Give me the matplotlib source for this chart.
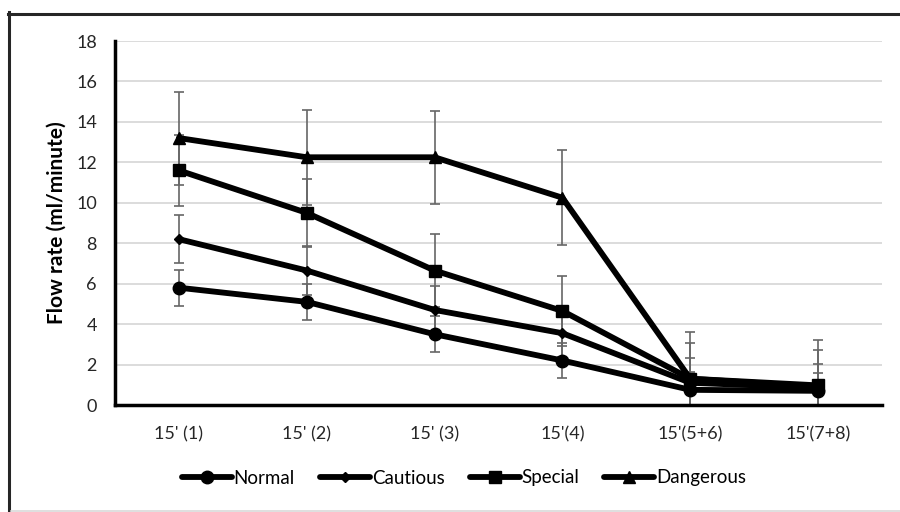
import matplotlib
matplotlib.use("Agg")
import matplotlib.pyplot as plt
from matplotlib.lines import Line2D

plt.rcParams['font.family'] = ['Lato', 'DejaVu Sans']

categories = ["15' (1)", "15' (2)", "15' (3)", "15'(4)", "15'(5+6)", "15'(7+8)"]
series_names = ["Normal", "Cautious", "Special", "Dangerous"]
normal = [5.8, 5.1, 3.5, 2.2, 0.75, 0.7]
normal_err = [0.9, 0.9, 0.9, 0.87, 0.9, 0.9]
cautious = [8.2, 6.65, 4.7, 3.55, 1.1, 0.85]
cautious_err = [1.2, 1.2, 1.2, 1.2, 1.2, 1.2]
special = [11.6, 9.5, 6.65, 4.65, 1.3, 0.97]
special_err = [1.75, 1.7, 1.8, 1.75, 1.75, 1.75]
dangerous = [13.2, 12.25, 12.25, 10.25, 1.3, 0.9]
dangerous_err = [2.3, 2.35, 2.3, 2.35, 2.3, 2.3]
y_ticks = [0, 2, 4, 6, 8, 10, 12, 14, 16, 18]

W, H = 900, 512
fig = plt.figure(figsize=(W / 100, H / 100), dpi=100)
ax = fig.add_axes([115 / W, 1 - 405 / H, (882 - 115) / W, (405 - 41) / H])

x = list(range(len(categories)))
data = [(normal, normal_err, 'o', 9), (cautious, cautious_err, 'D', 5.5),
        (special, special_err, 's', 8.5), (dangerous, dangerous_err, '^', 9)]

for vals, errs, m, ms in data:
    ax.errorbar(x, vals, yerr=errs, fmt='none', ecolor='#666666', elinewidth=1.2,
                capsize=3.3, capthick=1.2, zorder=2)
handles = []
for (vals, errs, m, ms), name in zip(data, series_names):
    h, = ax.plot(x, vals, color='black', lw=4.2, marker=m, markersize=ms,
                 markerfacecolor='black', markeredgecolor='black', zorder=3,
                 label=name, solid_capstyle='round', solid_joinstyle='round')
    handles.append(h)

ax.set_xlim(-0.5, len(categories) - 0.5)
ax.set_ylim(0, 18)
ax.set_yticks(y_ticks)
ax.set_xticks(x)
ax.set_xticklabels(categories)
ax.tick_params(axis='both', length=0, labelsize=13, colors='#262626')
ax.tick_params(axis='y', pad=13)
ax.tick_params(axis='x', pad=15)
ax.grid(axis='y', color='#d9d9d9', lw=1.3)
ax.set_axisbelow(True)
for s in ['top', 'right']:
    ax.spines[s].set_visible(False)
for s in ['left', 'bottom']:
    ax.spines[s].set_linewidth(2.5)
    ax.spines[s].set_color('black')

ax.set_ylabel("Flow rate (ml/minute)", fontsize=15, fontweight='bold', color='black')
ax.yaxis.set_label_coords(-0.063, 0.5)

fig.legend(handles=handles, loc='center', bbox_to_anchor=(464 / W, 1 - 478 / H),
           ncol=4, frameon=False, fontsize=13.5, handlelength=2.67, handletextpad=0.1,
           columnspacing=1.33)

# outer chart frame
fig.add_artist(Line2D([8.5 / W, 8.5 / W], [0, 1 - 12 / H], color='#262626', lw=2.2,
                      transform=fig.transFigure))
fig.add_artist(Line2D([7.5 / W, 1], [1 - 13.5 / H, 1 - 13.5 / H], color='#262626', lw=2.2,
                      transform=fig.transFigure))
fig.add_artist(Line2D([11 / W, 1], [1 - 510.5 / H, 1 - 510.5 / H], color='#d9d9d9', lw=1.2,
                      transform=fig.transFigure))

fig.savefig("out.png", dpi=100)
